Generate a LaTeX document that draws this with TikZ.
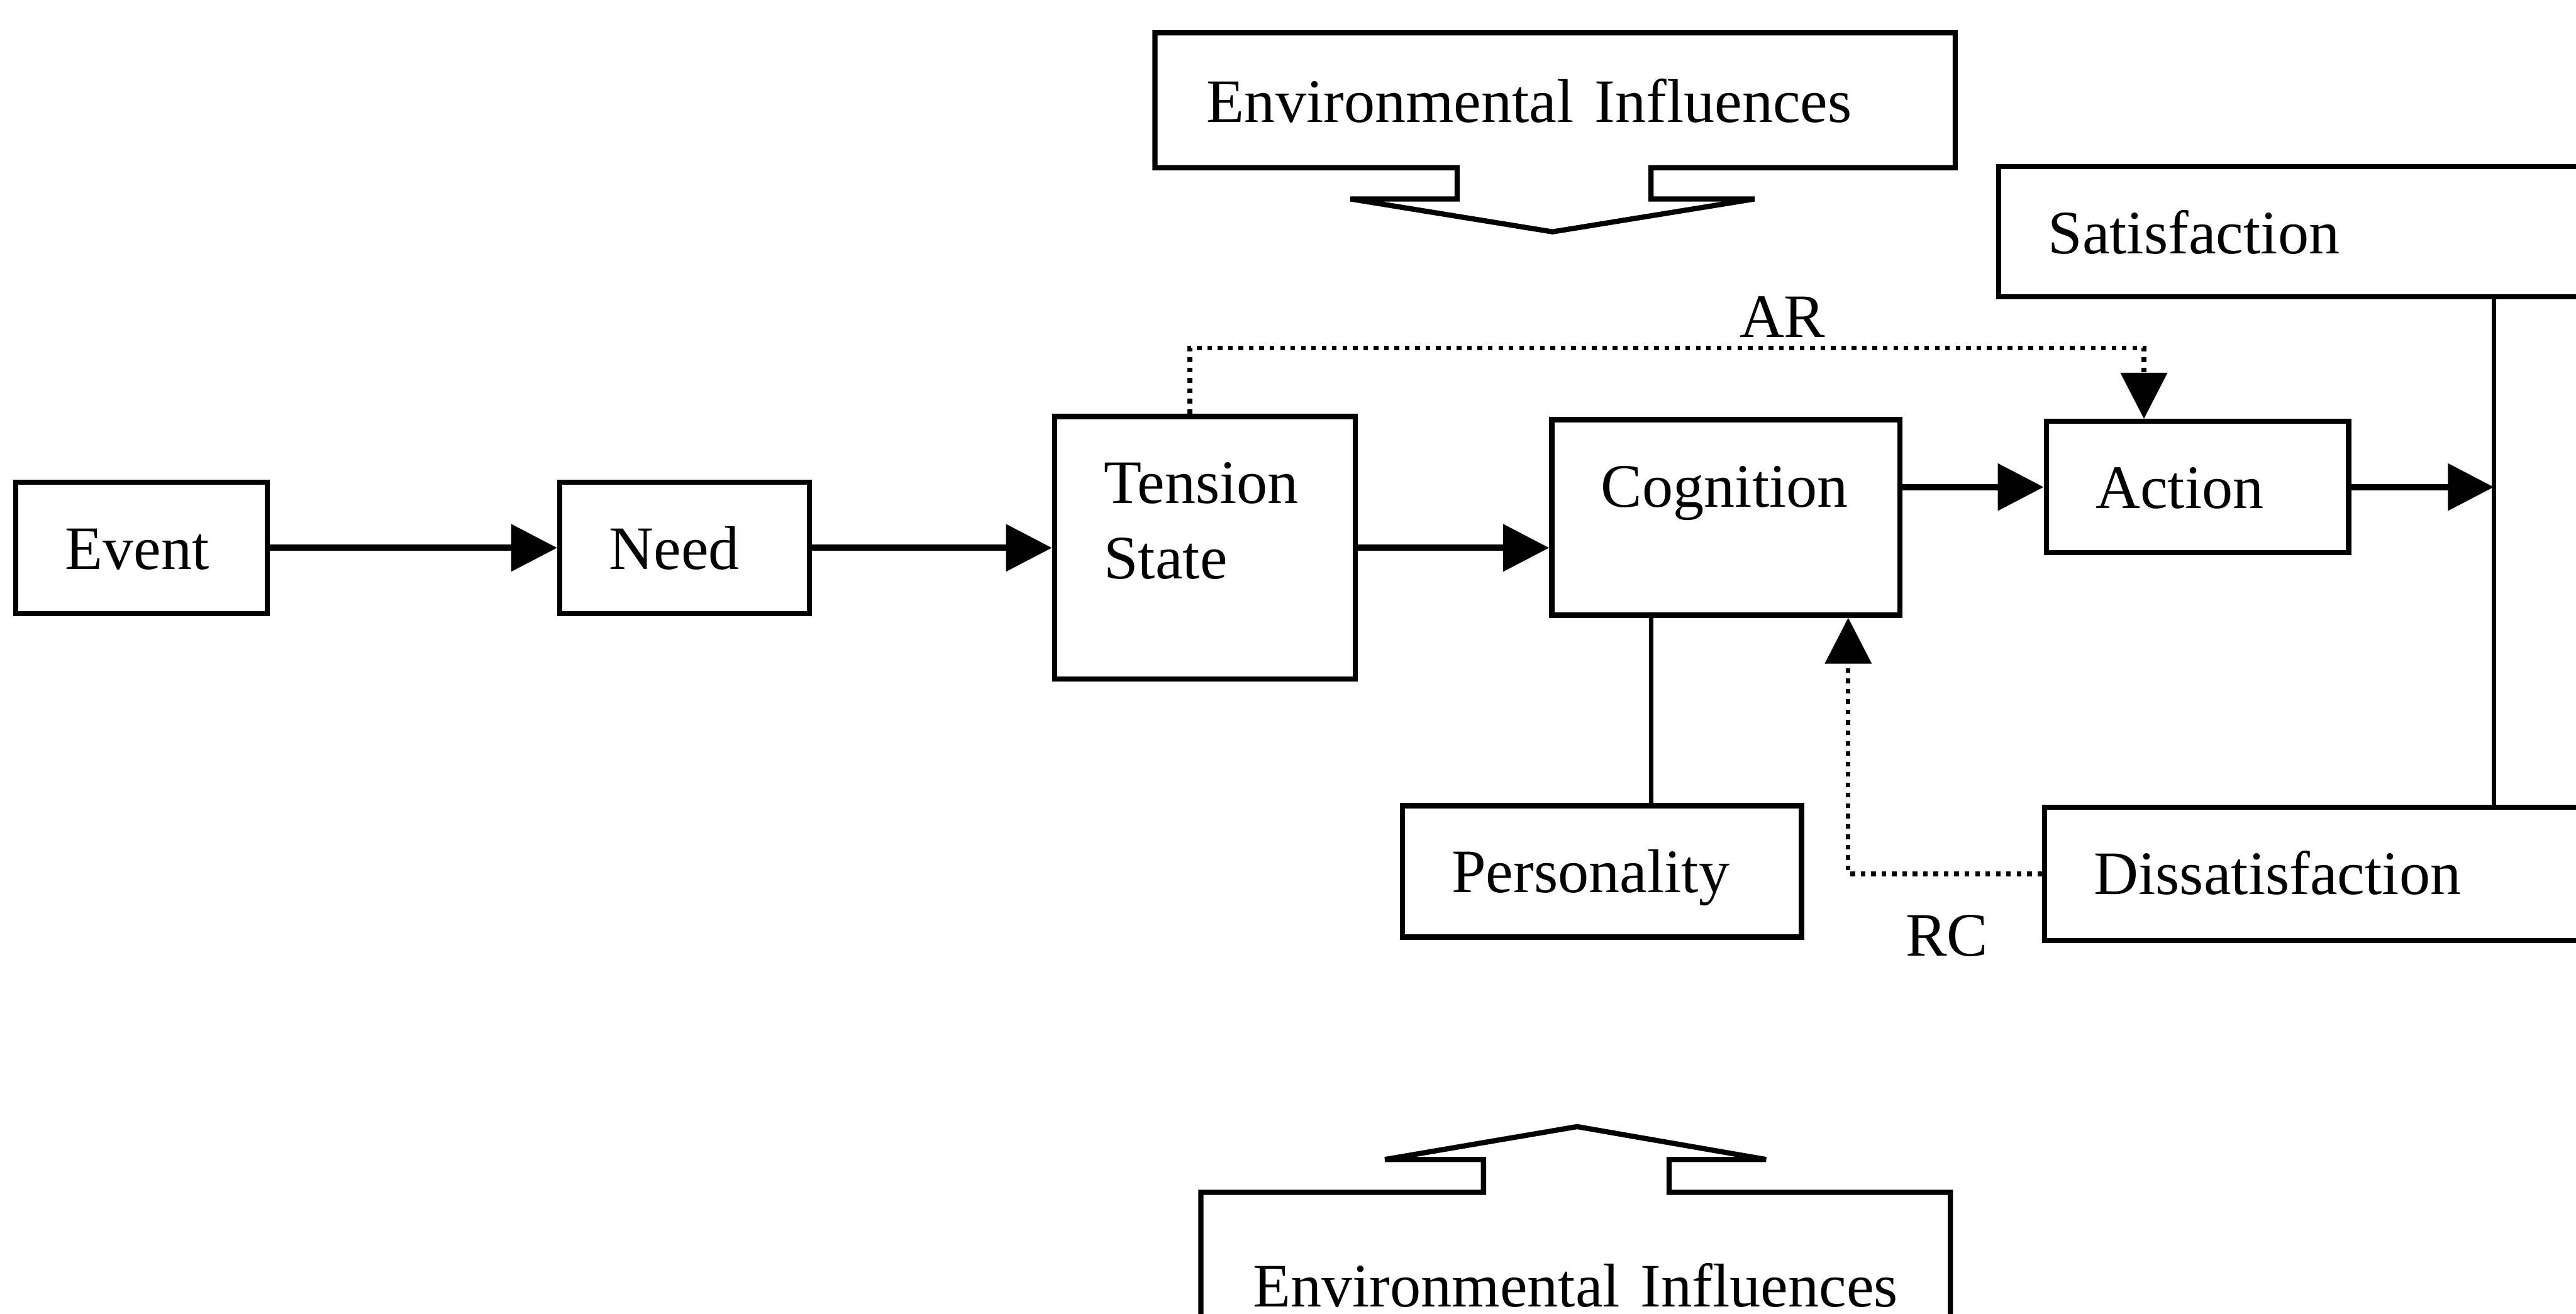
\documentclass[tikz,border=0pt]{standalone}
\usepackage{fontspec}
\setmainfont{Liberation Serif}
\usetikzlibrary{arrows.meta, positioning, calc}

\begin{document}
\begin{tikzpicture}[
  x=0.1mm, y=-0.1mm,
  box/.style={rectangle, draw, line width=0.9pt, anchor=north west, inner xsep=3mm, inner ysep=0pt, text height=5.3mm, align=left, font=\fontsize{10.7}{13}\selectfont},
  envbox/.style={box, draw=none},
  outline/.style={line width=0.9pt, line join=miter},
  flow/.style={-{Triangle[length=2.8mm, width=2.8mm]}, line width=1.1pt},
  link/.style={line width=0.8pt},
  feedback/.style={densely dotted, line width=0.8pt, -{Triangle[length=2.8mm, width=2.8mm]}},
  tag/.style={font=\fontsize{10.7}{13}\selectfont, inner sep=0pt}
]
\useasboundingbox (0,0) rectangle (1568,800);

% Main chain
\node[box, text width=9.3mm, text depth=2.7mm] (event) at (8,292) {Event};
\node[box, text width=9.2mm, text depth=2.7mm, right=17.5mm of event] (need) {Need};
\node[box, text width=12.3mm, text depth=10.7mm, right=14.6mm of need] (tension) {Tension\\State};
\node[box, text width=15.2mm, text depth=6.6mm] (cognition) at (943,254) {Cognition};
\node[box, text width=12.4mm, text depth=2.7mm] (action) at (1244,255) {Action};

\draw[flow] (event) -- (need);
\draw[flow] (need) -- (tension);
\draw[flow] (tension.east) -- (tension.east -| cognition.west);
\draw[flow] (cognition.east |- action.west) -- (action.west);

% Outcomes
\node[box, text width=44mm, text depth=2.6mm] (satisfaction) at (1215,100) {Satisfaction};
\node[box, text width=41mm, text depth=2.8mm] (dissatisfaction) at (1243,490) {Dissatisfaction};
\node[box, text width=18.3mm, text depth=2.7mm] (personality) at (852,489) {Personality};

\coordinate (sat_drop) at ($(satisfaction.south west)+(303,0)$);
\draw[link] (sat_drop) -- (sat_drop |- dissatisfaction.north);
\draw[flow] (action.east) -- (action.east -| sat_drop);

\coordinate (pers_link) at ($(cognition.south west)+(62,0)$);
\draw[link] (pers_link) -- (pers_link |- personality.north);

% Feedback loops
\coordinate (ar_from) at ($(tension.north west)+(84,0)$);
\coordinate (ar_to) at ($(action.north west)+(61,0)$);
\draw[feedback] (ar_from) -- ++(0,-40) -| (ar_to);
\node[tag] (ar) at (1085,193) {AR};

\coordinate (rc_to) at ($(cognition.south west)+(182,0)$);
\draw[feedback] (dissatisfaction.west) -| (rc_to);
\node[tag] (rc) at (1185,570) {RC};

% Environmental influences
\node[envbox, text width=42.4mm, text depth=2.6mm] (env_top) at (703,20) {Environmental Influences};
\draw[outline] ($(env_top.south west)+(184,0)$) -- (env_top.south west) -- (env_top.north west) -- (env_top.north east) -- (env_top.south east) -- ($(env_top.south west)+(302,0)$) -- ++(0,19) -- ++(63,0) -- ++(-123,20) -- ++(-123,-20) -- ++(65,0) -- cycle;

\node[envbox, text width=39.3mm, text height=6.8mm, text depth=6.2mm] (env_bottom) at (731,726) {Environmental Influences};
\draw[outline] ($(env_bottom.north west)+(172,0)$) -- (env_bottom.north west) -- (env_bottom.south west) -- (env_bottom.south east) -- (env_bottom.north east) -- ($(env_bottom.north west)+(285,0)$) -- ++(0,-20) -- ++(59,0) -- ++(-115,-20) -- ++(-117,20) -- ++(60,0) -- cycle;

\end{tikzpicture}
\end{document}
